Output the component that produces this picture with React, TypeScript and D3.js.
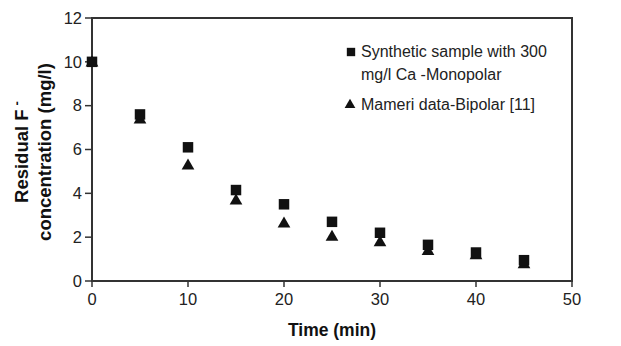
import React from "react";
import * as d3 from "d3";

const times = [0, 5, 10, 15, 20, 25, 30, 35, 40, 45];
const monopolar = [10, 7.6, 6.1, 4.15, 3.5, 2.7, 2.2, 1.65, 1.3, 0.95];
const bipolar = [10, 7.4, 5.3, 3.7, 2.65, 2.05, 1.8, 1.4, 1.2, 0.8];
const xTicks = [0, 10, 20, 30, 40, 50];
const yTicks = [0, 2, 4, 6, 8, 10, 12];
const legendLabels = [["Synthetic sample with 300", "mg/l Ca -Monopolar"], ["Mameri data-Bipolar [11]"]];

const W = 621, H = 346;
const m = { left: 92, right: 49, top: 18, bottom: 65 };

export default function App() {
  const x = d3.scaleLinear().domain([0, 50]).range([m.left, W - m.right]);
  const y = d3.scaleLinear().domain([0, 12]).range([H - m.bottom, m.top]);
  const sq = d3.symbol().type(d3.symbolSquare).size(110)();
  const tri = d3.symbol().type(d3.symbolTriangle).size(70)();
  const col = "#111";
  const axCol = "#333";
  const font = "Liberation Sans, Arial, Helvetica, sans-serif";
  return (
    <svg width={W} height={H} style={{ position: "absolute", left: 0, top: 0, background: "#fff" }} fontFamily={font}>
      <rect x={x(0)} y={y(12)} width={x(50) - x(0)} height={y(0) - y(12)} fill="none" stroke={axCol} strokeWidth={2} />
      {yTicks.map((t) => (
        <g key={"y" + t}>
          <line x1={x(0) - 7} x2={x(0)} y1={y(t)} y2={y(t)} stroke={axCol} strokeWidth={1.5} />
          <text x={x(0) - 10} y={y(t)} dy="0.35em" textAnchor="end" fontSize={16.5} fill="#222">{t}</text>
        </g>
      ))}
      {xTicks.map((t) => (
        <g key={"x" + t}>
          <line x1={x(t)} x2={x(t)} y1={y(0)} y2={y(0) + 6} stroke={axCol} strokeWidth={1.5} />
          <text x={x(t)} y={y(0) + 24} textAnchor="middle" fontSize={16.5} fill="#222">{t}</text>
        </g>
      ))}
      <text x={(x(0) + x(50)) / 2} y={336} textAnchor="middle" fontSize={17.5} fontWeight="bold" fill="#111">Time (min)</text>
      <g transform={`translate(28,152) rotate(-90)`}>
        <text x={0} y={0} textAnchor="middle" fontSize={18.5} fontWeight="bold" fill="#111">
          Residual F<tspan dx={4} dy={-7} fontSize={13}>-</tspan>
        </text>
        <text x={0} y={23} textAnchor="middle" fontSize={18.5} fontWeight="bold" fill="#111">concentration (mg/l)</text>
      </g>
      {times.map((t, i) => (
        <path key={"b" + i} d={tri} transform={`translate(${x(t)},${y(bipolar[i]) + 1})`} fill={col} />
      ))}
      {times.map((t, i) => (
        <path key={"m" + i} d={sq} transform={`translate(${x(t)},${y(monopolar[i])})`} fill={col} />
      ))}
      <path d={d3.symbol().type(d3.symbolSquare).size(70)()} transform="translate(351,52)" fill={col} />
      <text x={361} y={57} fontSize={16} fill="#222">{legendLabels[0][0]}</text>
      <text x={361} y={80} fontSize={16} fill="#222">{legendLabels[0][1]}</text>
      <path d={d3.symbol().type(d3.symbolTriangle).size(50)()} transform="translate(350,105)" fill={col} />
      <text x={361} y={110} fontSize={16} fill="#222">{legendLabels[1][0]}</text>
    </svg>
  );
}
